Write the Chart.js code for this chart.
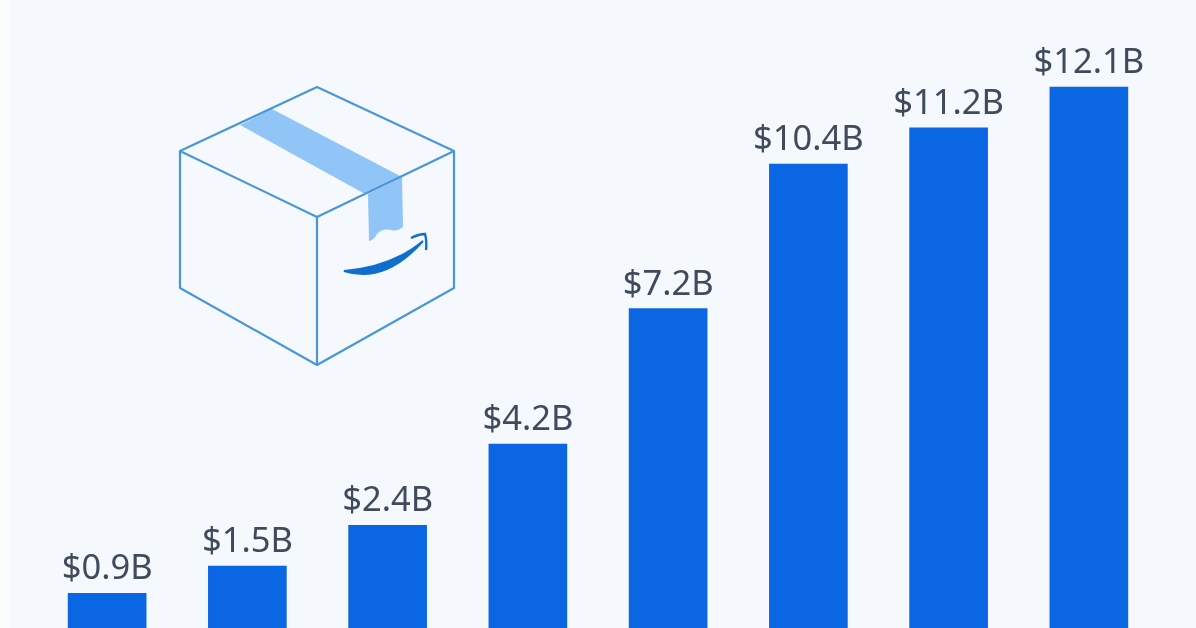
<!DOCTYPE html>
<html>
<head>
<meta charset="utf-8">
<title>Amazon revenue</title>
<script src="https://cdn.jsdelivr.net/npm/chart.js@4"></script>
<style>
  html, body { margin: 0; padding: 0; width: 1196px; height: 628px; overflow: hidden; background: #f5f8fc; }
  #strip { position: absolute; left: 0; top: 0; width: 9px; height: 628px; background: #fafcfe; }
  /* the source picture is a soft, upscaled image */
  #wrap { position: relative; width: 1196px; height: 628px; filter: blur(0.6px); }
  #box { position: absolute; left: 0; top: 0; }
</style>
</head>
<body>
<div id="strip"></div>
<div id="wrap">
  <canvas id="c" width="1196" height="628"></canvas>
  <!-- parcel illustration -->
  <svg id="box" width="1196" height="628" fill="none">
    <path d="M240 125 L272 109 L402 177 L365 194 Z" fill="#92c5f7"/>
    <path d="M368 194 L402 177 L403 227 Q397 232 391 230 Q382 228 377 234 Q374 240 369 241 Z" fill="#92c5f7"/>
    <g stroke="#4a97d8" stroke-width="2.2" stroke-linejoin="round">
      <path d="M317 87 L454 151 L317 217 L180 151 Z"/>
      <path d="M180 151 L180 288 L317 365 L454 288 L454 151"/>
      <path d="M317 217 L317 365"/>
    </g>
    <path d="M344 271 Q385 284 423 241 Q392 267 344 271 Z" fill="#0f6fd0" stroke="#0f6fd0" stroke-width="2"/>
    <path d="M411 238 Q419 234 425 234 Q427 241 426 250" stroke="#0f6fd0" stroke-width="2.4"/>
  </svg>
</div>
<script>
const years = ['2014', '2015', '2016', '2017', '2018', '2019', '2020', '2021'];
const revenue = [0.9, 1.5, 2.4, 4.2, 7.2, 10.4, 11.2, 12.1];
const labels = ['$0.9B', '$1.5B', '$2.4B', '$4.2B', '$7.2B', '$10.4B', '$11.2B', '$12.1B'];

// values above the bars
const barLabels = {
  id: 'barLabels',
  afterDatasetsDraw(chart) {
    const ctx = chart.ctx;
    ctx.save();
    ctx.font = '34.5px "Noto Sans"';
    ctx.fillStyle = '#3f4b5c';
    ctx.textAlign = 'center';
    ctx.textBaseline = 'alphabetic';
    chart.getDatasetMeta(0).data.forEach((bar, i) => {
      ctx.fillText(labels[i], bar.x, bar.y - 14);
    });
    ctx.restore();
  },
};

new Chart(document.getElementById('c'), {
  type: 'bar',
  data: {
    labels: years,
    datasets: [{ data: revenue, backgroundColor: '#0b66e4', barThickness: 78 }],
  },
  options: {
    responsive: false,
    animation: false,
    layout: { padding: { left: 37, right: 37, top: 0, bottom: 0 } },
    plugins: { legend: { display: false }, tooltip: { enabled: false } },
    scales: {
      x: { display: false },
      // bottom of the picture cuts the bars off just above zero
      y: { display: false, min: 0.13, max: 14.03 },
    },
  },
  plugins: [barLabels],
});
</script>
</body>
</html>
